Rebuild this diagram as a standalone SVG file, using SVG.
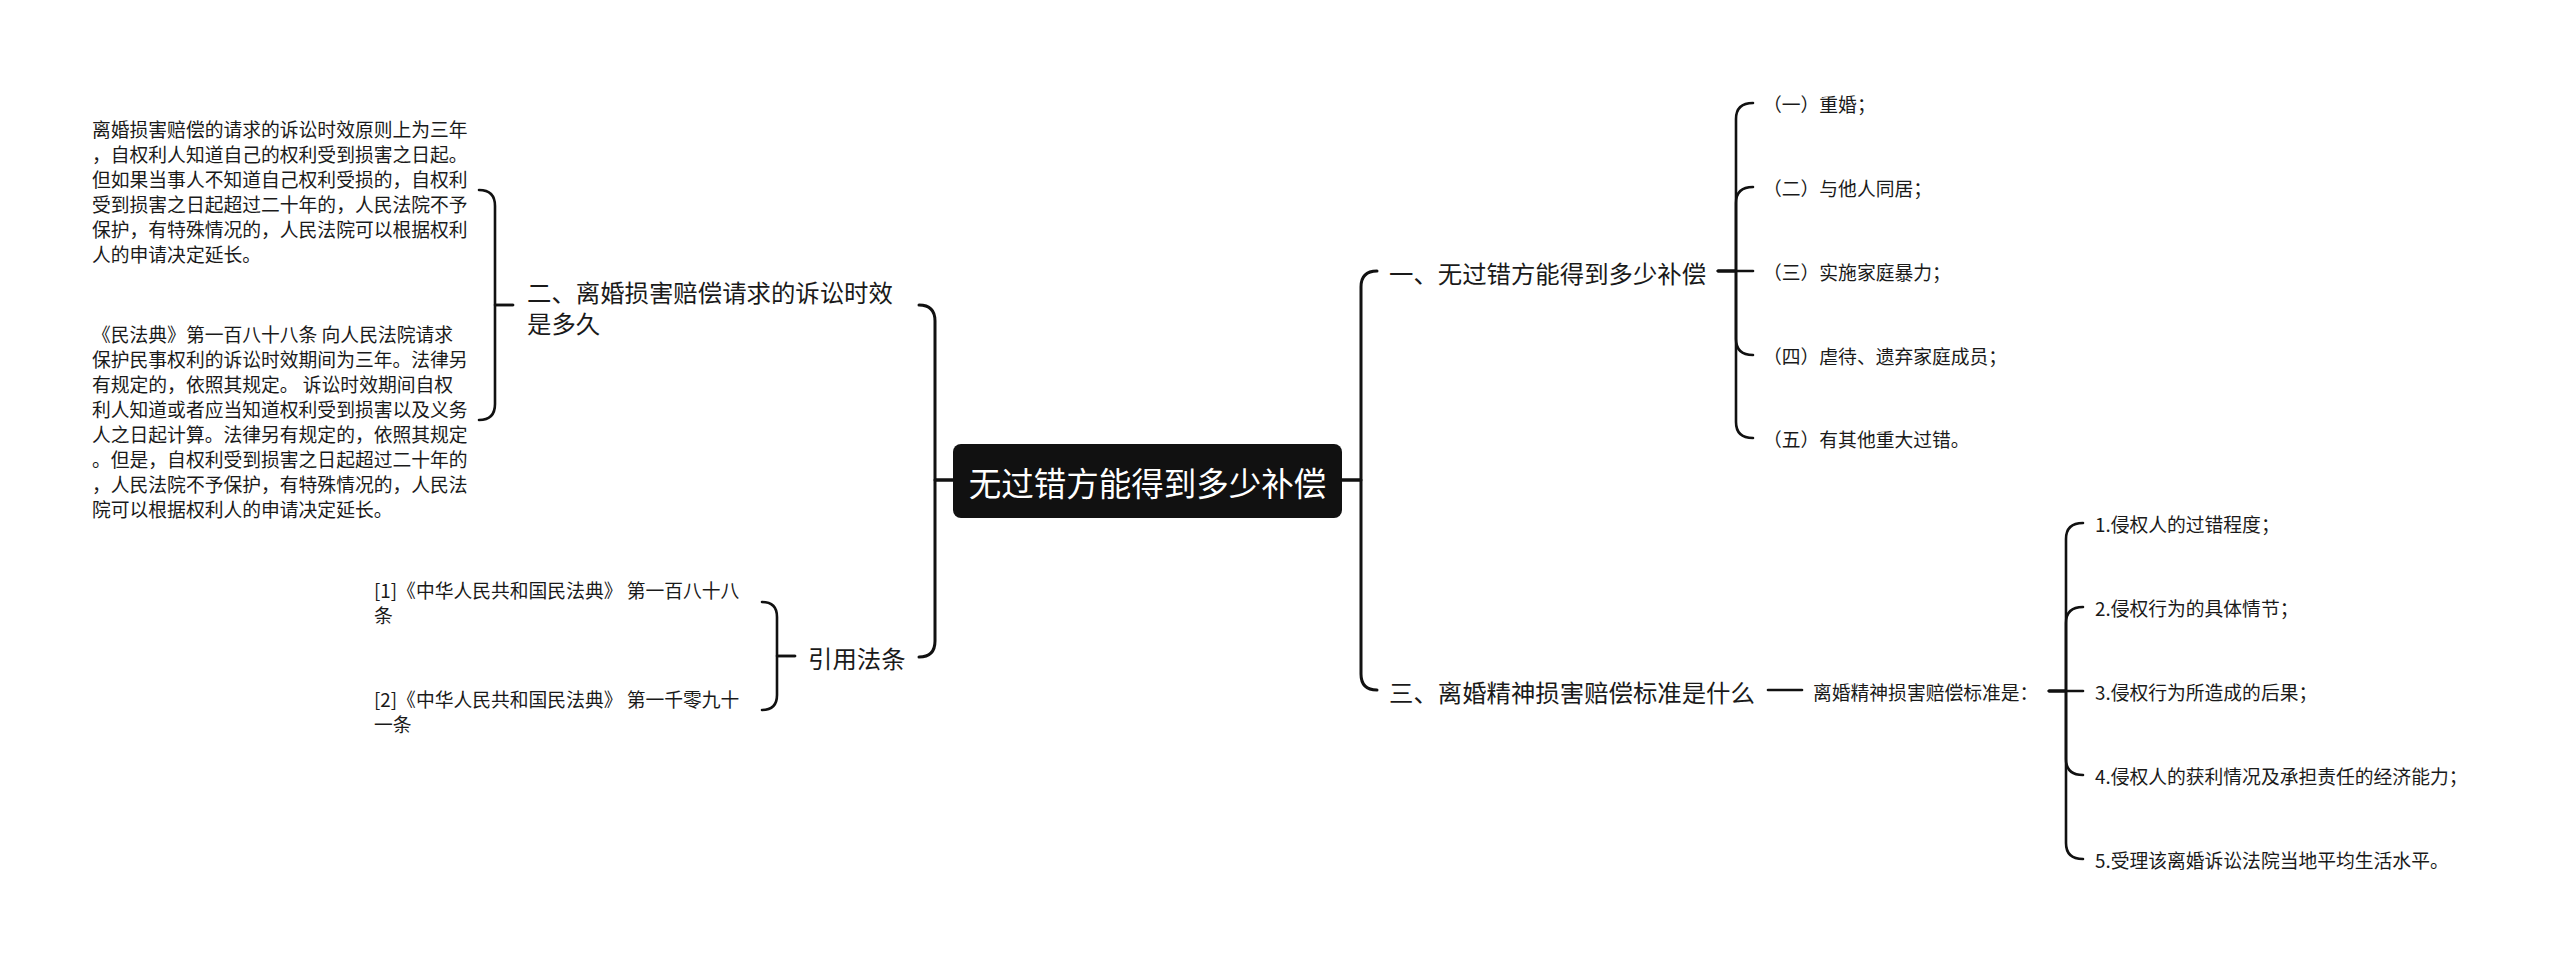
<svg xmlns="http://www.w3.org/2000/svg" width="2560" height="961" viewBox="0 0 2560 961">
<style>
text{font-family:"Noto Sans CJK SC","Noto Sans",sans-serif;dominant-baseline:central}
.root{font-size:32.5px;fill:#fff}
.main{font-size:24.4px;fill:#1a1a1a}
.leaf{font-size:18.8px;fill:#1a1a1a}
.c{fill:none;stroke:#111;stroke-width:3;stroke-linecap:round;stroke-linejoin:round}
.s{fill:none;stroke:#111;stroke-width:2.6;stroke-linecap:round;stroke-linejoin:round}
</style>
<rect width="2560" height="961" fill="#fff"/>
<g id="connectors">
<path class="c" d="M953,480 H935 V321 Q935,305 919,305"/>
<path class="c" d="M953,480 H935 V641 Q935,657 919,657"/>
<path class="c" d="M1342,480 H1361 V287 Q1361,271 1377,271"/>
<path class="c" d="M1342,480 H1361 V674 Q1361,690 1377,690"/>
<path class="s" d="M513,305 H495 V206 Q495,190 479,190"/>
<path class="s" d="M513,305 H495 V404 Q495,420 479,420"/>
<path class="s" d="M795,656 H777 V617 Q777,602 762,602"/>
<path class="s" d="M795,656 H777 V695 Q777,710 762,710"/>
<path class="s" d="M1718,271 H1736 V119 Q1736,103 1753,103"/>
<path class="s" d="M1718,271 H1736 V203 Q1736,187 1753,187"/>
<path class="s" d="M1718,271 H1753"/>
<path class="s" d="M1718,271 H1736 V339 Q1736,355 1753,355"/>
<path class="s" d="M1718,271 H1736 V422 Q1736,438 1753,438"/>
<path class="s" d="M1768,690 H1802"/>
<path class="s" d="M2049,691 H2066 V539 Q2066,523 2083,523"/>
<path class="s" d="M2049,691 H2066 V623 Q2066,607 2083,607"/>
<path class="s" d="M2049,691 H2083"/>
<path class="s" d="M2049,691 H2066 V759 Q2066,775 2083,775"/>
<path class="s" d="M2049,691 H2066 V843 Q2066,859 2083,859"/>
</g>
<g id="root">
<rect x="953" y="444" width="389" height="74" rx="8" fill="#111"/>
<text class="root" x="1147.5" y="481" text-anchor="middle">无过错方能得到多少补偿</text>
</g>
<g id="n-er">
<text class="main" x="527" y="291">二、离婚损害赔偿请求的诉讼时效</text>
<text class="main" x="527" y="322">是多久</text>
</g>
<g id="n-er-1">
<text class="leaf" x="92" y="128">离婚损害赔偿的请求的诉讼时效原则上为三年</text>
<text class="leaf" x="92" y="153">，自权利人知道自己的权利受到损害之日起。</text>
<text class="leaf" x="92" y="178">但如果当事人不知道自己权利受损的，自权利</text>
<text class="leaf" x="92" y="203">受到损害之日起超过二十年的，人民法院不予</text>
<text class="leaf" x="92" y="228">保护，有特殊情况的，人民法院可以根据权利</text>
<text class="leaf" x="92" y="253">人的申请决定延长。</text>
</g>
<g id="n-er-2">
<text class="leaf" x="92" y="333">《民法典》第一百八十八条 向人民法院请求</text>
<text class="leaf" x="92" y="358">保护民事权利的诉讼时效期间为三年。法律另</text>
<text class="leaf" x="92" y="383">有规定的，依照其规定。 诉讼时效期间自权</text>
<text class="leaf" x="92" y="408">利人知道或者应当知道权利受到损害以及义务</text>
<text class="leaf" x="92" y="433">人之日起计算。法律另有规定的，依照其规定</text>
<text class="leaf" x="92" y="458">。但是，自权利受到损害之日起超过二十年的</text>
<text class="leaf" x="92" y="483">，人民法院不予保护，有特殊情况的，人民法</text>
<text class="leaf" x="92" y="508">院可以根据权利人的申请决定延长。</text>
</g>
<g id="n-yin">
<text class="main" x="808" y="657">引用法条</text>
</g>
<g id="n-yin-1">
<text class="leaf" x="374" y="589.5">[1]《中华人民共和国民法典》 第一百八十八</text>
<text class="leaf" x="374" y="614.5">条</text>
</g>
<g id="n-yin-2">
<text class="leaf" x="374" y="698">[2]《中华人民共和国民法典》 第一千零九十</text>
<text class="leaf" x="374" y="723">一条</text>
</g>
<g id="n-yi">
<text class="main" x="1389" y="272">一、无过错方能得到多少补偿</text>
</g>
<g id="n-yi-1"><text class="leaf" x="1763" y="103">（一）重婚；</text></g>
<g id="n-yi-2"><text class="leaf" x="1763" y="187">（二）与他人同居；</text></g>
<g id="n-yi-3"><text class="leaf" x="1763" y="271">（三）实施家庭暴力；</text></g>
<g id="n-yi-4"><text class="leaf" x="1763" y="355">（四）虐待、遗弃家庭成员；</text></g>
<g id="n-yi-5"><text class="leaf" x="1763" y="438">（五）有其他重大过错。</text></g>
<g id="n-san">
<text class="main" x="1389" y="691">三、离婚精神损害赔偿标准是什么</text>
</g>
<g id="n-san-1">
<text class="leaf" x="1813" y="691">离婚精神损害赔偿标准是：</text>
</g>
<g id="n-san-1-1"><text class="leaf" x="2095" y="523">1.侵权人的过错程度；</text></g>
<g id="n-san-1-2"><text class="leaf" x="2095" y="607">2.侵权行为的具体情节；</text></g>
<g id="n-san-1-3"><text class="leaf" x="2095" y="691">3.侵权行为所造成的后果；</text></g>
<g id="n-san-1-4"><text class="leaf" x="2095" y="775">4.侵权人的获利情况及承担责任的经济能力；</text></g>
<g id="n-san-1-5"><text class="leaf" x="2095" y="859">5.受理该离婚诉讼法院当地平均生活水平。</text></g>
</svg>
